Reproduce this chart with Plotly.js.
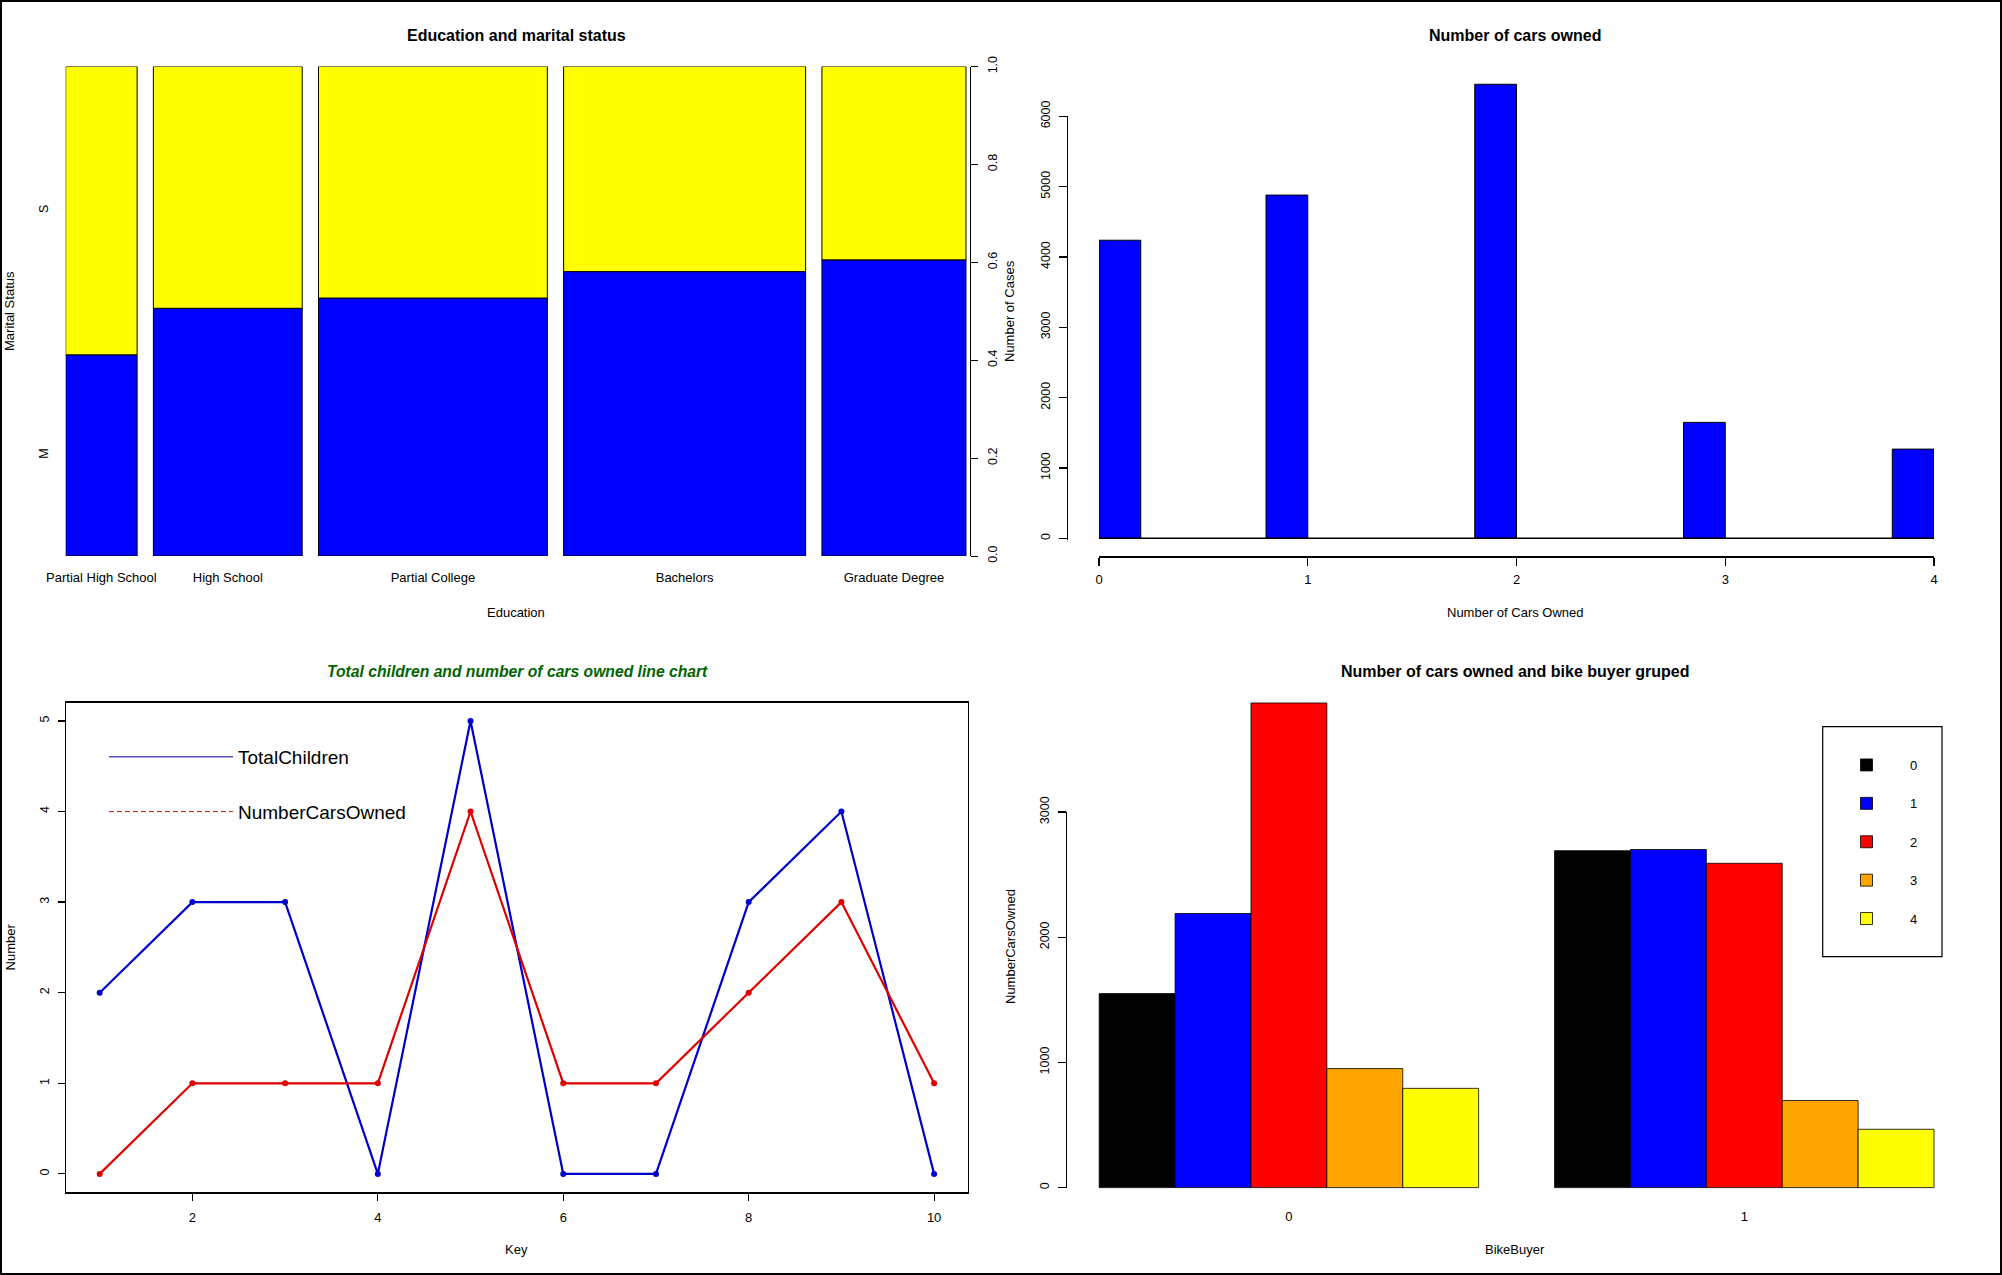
<!DOCTYPE html>
<html>
<head>
<meta charset="utf-8">
<script src="https://cdn.plot.ly/plotly-3.0.1.min.js"></script>
<style>
html,body{margin:0;padding:0;background:#ffffff;overflow:hidden}
#chart{width:2002px;height:1275px}
</style>
</head>
<body>
<div id="chart"></div>
<script>
// ---------- Panel 1: Education and marital status (mosaic) ----------
const educationLevels = ['Partial High School', 'High School', 'Partial College', 'Bachelors', 'Graduate Degree'];
const educationShare = [0.0855, 0.1782, 0.2740, 0.2898, 0.1725];
const marriedShare = [0.411, 0.506, 0.527, 0.581, 0.605];
const maritalLabels = ['M', 'S'];
const shareTicks = [0, 0.2, 0.4, 0.6, 0.8, 1.0];

// ---------- Panel 2: Number of cars owned (histogram) ----------
const carsOwned = [0, 1, 2, 3, 4];
const carsCases = [4238, 4880, 6455, 1648, 1268];
const casesTicks = [0, 1000, 2000, 3000, 4000, 5000, 6000];

// ---------- Panel 3: line chart ----------
const keys = [1, 2, 3, 4, 5, 6, 7, 8, 9, 10];
const totalChildren = [2, 3, 3, 0, 5, 0, 0, 3, 4, 0];
const numberCarsOwned = [0, 1, 1, 1, 4, 1, 1, 2, 3, 1];
const keyTicks = [2, 4, 6, 8, 10];
const numberTicks = [0, 1, 2, 3, 4, 5];

// ---------- Panel 4: cars owned grouped by bike buyer ----------
const bikeBuyerGroups = ['0', '1'];
const carLevels = ['0', '1', '2', '3', '4'];
const carsBikeBuyer0 = [1550, 2190, 3872, 951, 793];
const carsBikeBuyer1 = [2692, 2701, 2591, 696, 466];
const carColors = ['#000000', '#0000FF', '#FF0000', '#FFA500', '#FFFF00'];
const carsOwnedTicks = [0, 1000, 2000, 3000];

// ---------- helpers (page geometry) ----------
const W = 2002, H = 1275;
const px = v => v / W;
const py = v => 1 - v / H;
const FONT = 'Liberation Sans, Arial, Helvetica, sans-serif';

const traces = [];

// Mosaic bars
const mosGap = 0.0195;
const mosLefts = [];
let acc = 0;
educationShare.forEach(w => { mosLefts.push(acc); acc += w + mosGap; });
const mosEnd = acc - mosGap;
const mosCenters = mosLefts.map((l, i) => l + educationShare[i] / 2);

traces.push({
  type: 'bar', name: maritalLabels[0], x: mosCenters, width: educationShare,
  y: marriedShare, base: educationShare.map(() => 0),
  xaxis: 'x', yaxis: 'y', showlegend: false, hoverinfo: 'skip',
  marker: {color: '#0000FF', line: {color: '#000000', width: 1}}
});
traces.push({
  type: 'bar', name: maritalLabels[1], x: mosCenters, width: educationShare,
  y: marriedShare.map(m => 1 - m), base: marriedShare,
  xaxis: 'x', yaxis: 'y2', showlegend: false, hoverinfo: 'skip',
  marker: {color: '#FFFF00', line: {color: '#000000', width: 1}}
});

// Histogram
const binW = 0.2;
const histCenters = carsOwned.map(v => v === carsOwned[0] ? v + binW / 2 : v - binW / 2);
traces.push({
  type: 'bar', name: 'Number of Cases', x: histCenters, y: carsCases, width: binW,
  xaxis: 'x3', yaxis: 'y3', showlegend: false, hoverinfo: 'skip',
  marker: {color: '#0000FF', line: {color: '#000000', width: 1}}
});
// baseline of the histogram, drawn on the R-style count axis
traces.push({
  type: 'scatter', mode: 'lines', name: 'baseline',
  x: [Math.min(...carsOwned), Math.max(...carsOwned)], y: [0, 0],
  xaxis: 'x3', yaxis: 'y6', showlegend: false, hoverinfo: 'skip',
  line: {color: '#000000', width: 1.6}
});

// Line chart: legend-styled traces (hidden beneath the plotted lines)
traces.push({
  type: 'scatter', mode: 'lines', name: 'TotalChildren',
  x: keys, y: totalChildren, xaxis: 'x4', yaxis: 'y4',
  legend: 'legend', legendgroup: 'tc', hoverinfo: 'skip',
  line: {color: '#00008B', width: 1}
});
traces.push({
  type: 'scatter', mode: 'lines', name: 'NumberCarsOwned',
  x: keys, y: numberCarsOwned, xaxis: 'x4', yaxis: 'y4',
  legend: 'legend', legendgroup: 'nco', hoverinfo: 'skip',
  line: {color: '#B22222', width: 1, dash: '5px,3px'}
});
// Line chart: plotted series
traces.push({
  type: 'scatter', mode: 'lines+markers', name: 'TotalChildren',
  x: keys, y: totalChildren, xaxis: 'x4', yaxis: 'y4',
  showlegend: false, legendgroup: 'tc', hoverinfo: 'skip',
  line: {color: '#0000CD', width: 2.2},
  marker: {color: '#0000CD', size: 6, symbol: 'circle'}
});
traces.push({
  type: 'scatter', mode: 'lines+markers', name: 'NumberCarsOwned',
  x: keys, y: numberCarsOwned, xaxis: 'x4', yaxis: 'y4',
  showlegend: false, legendgroup: 'nco', hoverinfo: 'skip',
  line: {color: '#E00000', width: 2.2},
  marker: {color: '#E00000', size: 6, symbol: 'circle'}
});

// Grouped bars
const nLevels = carLevels.length;
const groupValues = [carsBikeBuyer0, carsBikeBuyer1];
const groupStart = bikeBuyerGroups.map((g, gi) => 1 + gi * (nLevels + 1));
const groupCenters = groupStart.map(s => s + nLevels / 2);
carLevels.forEach((lvl, i) => {
  traces.push({
    type: 'bar', name: lvl,
    x: groupStart.map(s => s + i + 0.5), width: bikeBuyerGroups.map(() => 1),
    y: groupValues.map(g => g[i]),
    xaxis: 'x5', yaxis: 'y5', legend: 'legend2', legendgroup: 'c' + lvl,
    hoverinfo: 'skip',
    marker: {color: carColors[i], line: {color: '#000000', width: 0.8}}
  });
});
// attaches the R-style count axis (draws nothing)
traces.push({
  type: 'scatter', mode: 'none', name: 'axis', x: groupCenters, y: groupCenters.map(() => 0),
  xaxis: 'x5', yaxis: 'y7', showlegend: false, hoverinfo: 'skip'
});

const tickFont = {family: FONT, size: 12.5, color: '#000000'};
const hTickFont = {family: FONT, size: 13, color: '#000000'};
const baseAxis = {showgrid: false, zeroline: false, fixedrange: true};

const layout = {
  width: W, height: H,
  margin: {l: 0, r: 0, t: 0, b: 0, pad: 0},
  paper_bgcolor: '#ffffff', plot_bgcolor: 'rgba(0,0,0,0)',
  barmode: 'overlay', hovermode: false,
  font: {family: FONT, color: '#000000'},

  // mosaic
  xaxis: Object.assign({}, baseAxis, {
    domain: [px(65.7), px(969.5)], range: [0, mosEnd + 0.0042], anchor: 'y',
    tickmode: 'array', tickvals: mosCenters, ticktext: educationLevels,
    ticks: '', showline: false, tickfont: hTickFont, ticklabelstandoff: 12
  }),
  yaxis: Object.assign({}, baseAxis, {
    domain: [py(556), py(66.5)], range: [0, 1], anchor: 'x',
    tickmode: 'array', tickvals: [marriedShare[0] / 2, (1 + marriedShare[0]) / 2],
    ticktext: maritalLabels, ticks: '', showline: false, tickangle: -90,
    tickfont: tickFont, ticklabelstandoff: 14
  }),
  yaxis2: Object.assign({}, baseAxis, {
    overlaying: 'y', side: 'right', anchor: 'x', range: [0, 1],
    tickmode: 'array', tickvals: shareTicks, ticktext: shareTicks.map(v => v.toFixed(1)),
    showline: true, linecolor: '#000', linewidth: 1, ticks: 'outside', ticklen: 7,
    tickcolor: '#000', tickwidth: 1, tickangle: -90, tickfont: tickFont, ticklabelstandoff: 4
  }),

  // histogram: data axes (R's extended ranges)
  xaxis3: Object.assign({}, baseAxis, {
    domain: [px(1099), px(1934)], range: [0, 4], anchor: 'y3',
    tickmode: 'array', tickvals: carsOwned, showline: true, linecolor: '#000', linewidth: 1.2,
    ticks: 'outside', ticklen: 8, tickcolor: '#000', tickwidth: 1.2, tickfont: hTickFont,
    ticklabelstandoff: 3
  }),
  yaxis3: Object.assign({}, baseAxis, {
    domain: [py(556.4), py(66)], range: [-257.3, 6715], anchor: 'x3', visible: false
  }),
  // histogram: R-style y axis spanning only the tick range
  yaxis6: Object.assign({}, baseAxis, {
    domain: [py(539.8), py(116.3)], range: [-21.3, 6000], anchor: 'free', position: px(1066.7),
    tickmode: 'array', tickvals: casesTicks, showline: true, linecolor: '#000', linewidth: 1.2,
    ticks: 'outside', ticklen: 8, tickcolor: '#000', tickwidth: 1.2, tickangle: -90,
    tickfont: tickFont, ticklabelstandoff: 4
  }),

  // line chart
  xaxis4: Object.assign({}, baseAxis, {
    domain: [px(66.3), px(967.5)], range: [0.64, 10.36], anchor: 'y4',
    tickmode: 'array', tickvals: keyTicks, showline: true, mirror: true,
    linecolor: '#000', linewidth: 1.5, ticks: 'outside', ticklen: 7, tickcolor: '#000',
    tickwidth: 1.2, tickfont: hTickFont, ticklabelstandoff: 6
  }),
  yaxis4: Object.assign({}, baseAxis, {
    domain: [py(1192), py(702.8)], range: [-0.2, 5.2], anchor: 'x4',
    tickmode: 'array', tickvals: numberTicks, showline: true, mirror: true,
    linecolor: '#000', linewidth: 1.5, ticks: 'outside', ticklen: 7, tickcolor: '#000',
    tickwidth: 1.2, tickangle: -90, tickfont: tickFont, ticklabelstandoff: 4
  }),

  // grouped bars: data axes (R's extended ranges)
  xaxis5: Object.assign({}, baseAxis, {
    domain: [px(1065.8), px(1967.4)], range: [0.56, 12.44], anchor: 'y5',
    tickmode: 'array', tickvals: groupCenters, ticktext: bikeBuyerGroups,
    ticks: '', showline: false, tickfont: hTickFont, ticklabelstandoff: 0
  }),
  yaxis5: Object.assign({}, baseAxis, {
    domain: [py(1207), py(683.6)], range: [-154.9, 4026.7], anchor: 'x5', visible: false
  }),
  // grouped bars: R-style y axis spanning only the tick range
  yaxis7: Object.assign({}, baseAxis, {
    domain: [py(1187.6), py(812.1)], range: [0, 3000], anchor: 'free', position: px(1065.8),
    tickmode: 'array', tickvals: carsOwnedTicks, showline: true, linecolor: '#000', linewidth: 1.2,
    ticks: 'outside', ticklen: 8, tickcolor: '#000', tickwidth: 1.2, tickangle: -90,
    tickfont: tickFont, ticklabelstandoff: 4
  }),

  legend: {
    x: px(104), y: py(738), xanchor: 'left', yanchor: 'top',
    bgcolor: 'rgba(0,0,0,0)', borderwidth: 0, itemwidth: 124, tracegroupgap: 27,
    font: {family: FONT, size: 19, color: '#000'}, traceorder: 'grouped'
  },
  legend2: {
    x: px(1823), y: py(750), xanchor: 'left', yanchor: 'top',
    bgcolor: 'rgba(0,0,0,0)', borderwidth: 0, itemwidth: 77, tracegroupgap: 18.5,
    font: {family: FONT, size: 13, color: '#000'}, traceorder: 'grouped'
  },

  shapes: [
    {type: 'rect', xref: 'paper', yref: 'paper', x0: px(1), x1: px(2001), y0: py(1274), y1: py(1),
     line: {color: '#000', width: 2}, fillcolor: 'rgba(0,0,0,0)'},
    {type: 'rect', xref: 'paper', yref: 'paper', x0: px(1822.7), x1: px(1942), y0: py(956.7), y1: py(726.7),
     line: {color: '#000', width: 1.2}, fillcolor: 'rgba(0,0,0,0)'}
  ],

  annotations: [
    {text: 'Education and marital status', x: px(516), y: py(35), font: {family: FONT, size: 16, weight: 'bold'}},
    {text: 'Number of cars owned', x: px(1515), y: py(35), font: {family: FONT, size: 16, weight: 'bold'}},
    {text: 'Total children and number of cars owned line chart', x: px(517), y: py(671.6),
     font: {family: FONT, size: 15.7, weight: 'bold', style: 'italic', color: '#006400'}},
    {text: 'Number of cars owned and bike buyer gruped', x: px(1515.6), y: py(671.6), font: {family: FONT, size: 16, weight: 'bold'}},
    {text: 'Education', x: px(516), y: py(612), font: {family: FONT, size: 13}},
    {text: 'Marital Status', x: px(10), y: py(311), textangle: -90, font: {family: FONT, size: 13}},
    {text: 'Number of Cases', x: px(1010), y: py(311), textangle: -90, font: {family: FONT, size: 13}},
    {text: 'Number of Cars Owned', x: px(1515), y: py(612), font: {family: FONT, size: 13}},
    {text: 'Number', x: px(10), y: py(947.4), textangle: -90, font: {family: FONT, size: 13}},
    {text: 'Key', x: px(516), y: py(1249.5), font: {family: FONT, size: 13}},
    {text: 'NumberCarsOwned', x: px(1010), y: py(947), textangle: -90, font: {family: FONT, size: 13}},
    {text: 'BikeBuyer', x: px(1515), y: py(1249.5), font: {family: FONT, size: 13}}
  ].map(a => Object.assign({xref: 'paper', yref: 'paper', showarrow: false, xanchor: 'center', yanchor: 'middle'}, a))
};

Plotly.newPlot('chart', traces, layout, {displayModeBar: false, staticPlot: true, responsive: false});
</script>
</body>
</html>
